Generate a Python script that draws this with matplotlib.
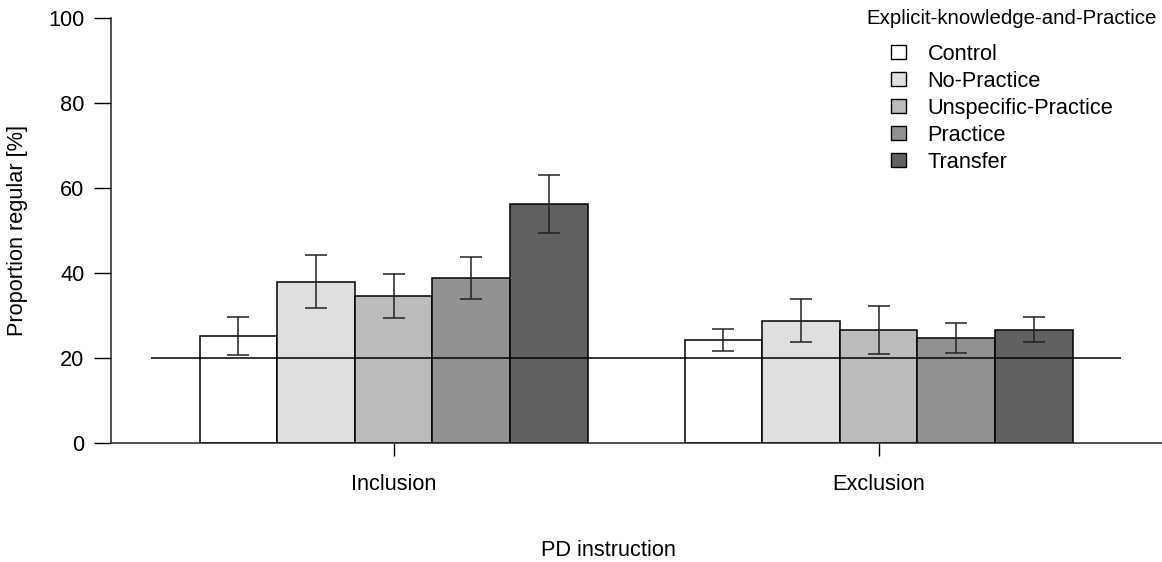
import matplotlib
matplotlib.use('Agg')
import matplotlib.pyplot as plt
import matplotlib.patches as mpatches
import numpy as np

plt.rcParams['font.family'] = ['Liberation Sans', 'DejaVu Sans']

# data
instructions = ['Inclusion', 'Exclusion']
groups = ['Control', 'No-Practice', 'Unspecific-Practice', 'Practice', 'Transfer']
colors = ['#ffffff', '#dfdfdf', '#bbbbbb', '#929292', '#616161']

means = {
    'Control': [25.2, 24.3],
    'No-Practice': [38.0, 28.8],
    'Unspecific-Practice': [34.6, 26.5],
    'Practice': [38.9, 24.7],
    'Transfer': [56.3, 26.6],
}
lower = {
    'Control': [20.7, 21.6],
    'No-Practice': [31.8, 23.7],
    'Unspecific-Practice': [29.3, 20.9],
    'Practice': [33.9, 21.2],
    'Transfer': [49.5, 23.7],
}
upper = {
    'Control': [29.7, 26.9],
    'No-Practice': [44.2, 33.9],
    'Unspecific-Practice': [39.8, 32.2],
    'Practice': [43.8, 28.2],
    'Transfer': [63.1, 29.6],
}
chance = 20

W, H = 1162, 562
fig = plt.figure(figsize=(W / 100, H / 100), dpi=100)
ax = fig.add_axes([111 / W, 1 - 443 / H, 1 - 111 / W, (443 - 18) / H])

x = np.arange(len(instructions))
width = 0.16
fs = 15.7

for i, g in enumerate(groups):
    pos = x + (i - 2) * width
    m = np.array(means[g])
    err = [m - np.array(lower[g]), np.array(upper[g]) - m]
    ax.bar(pos, m, width=width, color=colors[i], edgecolor='black', linewidth=1.1, zorder=2)
    ax.errorbar(pos, m, yerr=err, fmt='none', ecolor='#222222', elinewidth=1.1,
                capsize=8, capthick=1.1, zorder=3)

ax.hlines(chance, -0.5, 1.5, color='black', linewidth=1.1, zorder=4)

ax.set_xlim(-0.5825, 1.5845)
ax.set_ylim(0, 100)
ax.set_xticks(x)
ax.set_xticklabels(instructions, fontsize=fs)
ax.set_yticks([0, 20, 40, 60, 80, 100])
ax.tick_params(axis='y', length=12, width=1, pad=7, labelsize=fs)
ax.tick_params(axis='x', length=9, width=1, pad=13, labelsize=fs)

for s in ['top', 'right']:
    ax.spines[s].set_visible(False)
ax.spines['left'].set_bounds(0, 100)
for s in ['left', 'bottom']:
    ax.spines[s].set_linewidth(1.1)
    ax.spines[s].set_color('#222222')

fig.text(18 / W, 1 - 230 / H, 'Proportion regular [%]', rotation=90,
         ha='center', va='center', fontsize=fs)
fig.text(608 / W, 1 - 550 / H, 'PD instruction', ha='center', va='center', fontsize=fs)

# legend: title as separate text, entries below it
fig.text(866 / W, 1 - 18 / H, 'Explicit-knowledge-and-Practice', ha='left', va='center',
         fontsize=14.7)
handles = [mpatches.Patch(facecolor=c, edgecolor='black', linewidth=1.0) for c in colors]
ax.legend(handles, groups, loc='upper left', bbox_to_anchor=(891 / W, 1 - 44 / H),
          bbox_transform=fig.transFigure, frameon=False, fontsize=fs,
          handlelength=0.68, handleheight=0.6, handletextpad=1.0,
          labelspacing=0.27, borderpad=0, borderaxespad=0)

fig.savefig('out.png', dpi=100)
